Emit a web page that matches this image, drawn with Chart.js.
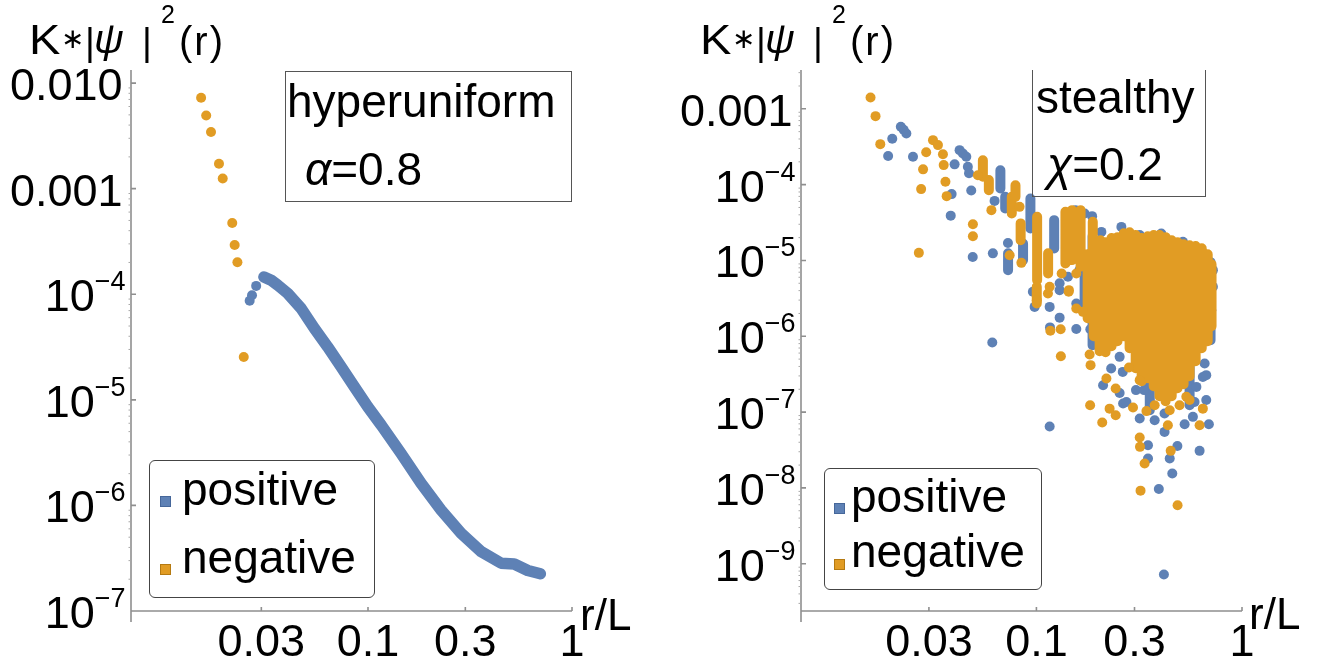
<!DOCTYPE html>
<html>
<head>
<meta charset="utf-8">
<script src="https://cdn.jsdelivr.net/npm/chart.js@4.4.0/dist/chart.umd.min.js"></script>
<style>
  html, body { margin: 0; padding: 0; background: #fff; }
  body { width: 1333px; height: 670px; position: relative; overflow: hidden;
         font-family: "Liberation Sans", Arial, sans-serif; color: #000; }
  .panel { position: absolute; top: 0; width: 663px; height: 670px; }
  .panel canvas { position: absolute; left: 0; top: 0; }
  .t { position: absolute; white-space: nowrap; line-height: 1; }
  .k { transform: scaleX(1.12); transform-origin: left top; }
  .box { position: absolute; border: 1.3px solid #555; box-sizing: border-box; }
  .legend { position: absolute; border: 1.3px solid #444; border-radius: 6px; box-sizing: border-box; }
  .mk { position: absolute; width: 11px; height: 11px; box-sizing: border-box; }
</style>
</head>
<body>

<div class="panel" id="p1" style="left:0">
  <canvas id="c1" width="663" height="670"></canvas>
  <!-- y axis title -->
  <div class="t k" style="left:29px;top:19.4px;font-size:42px">K</div>
  <div class="t" style="left:61px;top:25.3px;font-size:28px">∗</div>
  <div class="t" style="left:85px;top:22.8px;font-size:38px">|</div>
  <div class="t" style="left:94px;top:19px;font-size:41px"><i>ψ</i></div>
  <div class="t" style="left:142px;top:22.8px;font-size:38px">|</div>
  <div class="t" style="left:161px;top:1.7px;font-size:25px">2</div>
  <div class="t" style="left:179px;top:21.1px;font-size:40px;letter-spacing:2px">(r)</div>
  <div class="t" style="left:580px;top:592.8px;font-size:44px">r/L</div>
  <div class="box" style="left:285px;top:71px;width:287px;height:131px"></div>
  <div class="t" style="left:287px;top:78.1px;font-size:46px">hyperuniform</div>
  <div class="t" style="left:305px;top:146.1px;font-size:46px"><i>α</i>=0.8</div>
  <div class="legend" style="left:149px;top:460px;width:226px;height:138px"></div>
  <div class="mk" style="left:160px;top:496px;background:#5E81B5;border:1px solid #46679a"></div>
  <div class="mk" style="left:160px;top:564px;background:#E19C24;border:1px solid #b57a12"></div>
  <div class="t" style="left:182px;top:466.1px;font-size:46px">positive</div>
  <div class="t" style="left:182px;top:534.1px;font-size:46px">negative</div>
</div>

<div class="panel" id="p2" style="left:670px">
  <canvas id="c2" width="663" height="670"></canvas>
  <div class="t k" style="left:30px;top:19.4px;font-size:42px">K</div>
  <div class="t" style="left:62px;top:25.3px;font-size:28px">∗</div>
  <div class="t" style="left:86px;top:22.8px;font-size:38px">|</div>
  <div class="t" style="left:95px;top:19px;font-size:41px"><i>ψ</i></div>
  <div class="t" style="left:143px;top:22.8px;font-size:38px">|</div>
  <div class="t" style="left:162px;top:1.7px;font-size:25px">2</div>
  <div class="t" style="left:180px;top:21.1px;font-size:40px;letter-spacing:2px">(r)</div>
  <div class="t" style="left:579px;top:591.8px;font-size:44px">r/L</div>
  <div class="box" style="left:362px;top:70px;width:174px;height:127px;border-top:none"></div>
  <div class="t" style="left:366px;top:74.1px;font-size:46px">stealthy</div>
  <div class="t" style="left:377px;top:141.1px;font-size:46px"><i>χ</i>=0.2</div>
  <div class="legend" style="left:154px;top:468px;width:218px;height:122px"></div>
  <div class="mk" style="left:164px;top:503px;background:#5E81B5;border:1px solid #46679a"></div>
  <div class="mk" style="left:164px;top:559px;background:#E19C24;border:1px solid #b57a12"></div>
  <div class="t" style="left:181px;top:473.1px;font-size:46px">positive</div>
  <div class="t" style="left:181px;top:528.1px;font-size:46px">negative</div>
</div>

<script>
// colours used by both panels
const BLUE = '#5E81B5';
const ORANGE = '#E19C24';

// shared x axis
const xTickVals = [0.03, 0.1, 0.3, 1];
const xTickText = ['0.03', '0.1', '0.3', '1'];

// ---- left panel: hyperuniform, alpha = 0.8 ----
const huYTickVals = [1e-2, 1e-3, 1e-4, 1e-5, 1e-6, 1e-7];
const huYTickText = ['0.010', '0.001', '10^−4', '10^−5', '10^−6', '10^−7'];

const huNegR = [0.0152, 0.0161, 0.0170, 0.0186, 0.0194, 0.0216, 0.0222, 0.0229, 0.0246];
const huNegK = [7.27e-3, 4.94e-3, 3.44e-3, 1.72e-3, 1.25e-3, 4.73e-4, 2.93e-4, 2.01e-4, 2.54e-5];

// first three are loose dots, the rest is the dense band
const huPosR = [0.0263, 0.0270, 0.0283, 0.0309, 0.0335, 0.0361, 0.0404, 0.0470, 0.0546, 0.0634,
                0.0738, 0.0857, 0.0997, 0.116, 0.145, 0.182, 0.228, 0.286, 0.358, 0.449,
                0.521, 0.607, 0.700];
const huPosK = [8.67e-5, 9.8e-5, 1.20e-4, 1.46e-4, 1.36e-4, 1.22e-4, 1.02e-4, 7.35e-5, 4.75e-5, 3.18e-5,
                2.06e-5, 1.33e-5, 8.6e-6, 5.78e-6, 3.12e-6, 1.62e-6, 9.06e-7, 5.45e-7, 3.66e-7, 2.84e-7,
                2.79e-7, 2.42e-7, 2.25e-7];

// ---- right panel: stealthy, chi = 0.2 ----
const stYTickVals = [1e-3, 1e-4, 1e-5, 1e-6, 1e-7, 1e-8, 1e-9];
const stYTickText = ['0.001', '10^−4', '10^−5', '10^−6', '10^−7', '10^−8', '10^−9'];

const stNegR = [0.0156, 0.0165, 0.0174, 0.0268, 0.0275, 0.0281, 0.0291, 0.0314, 0.0332, 0.0351,
                0.0354, 0.0361, 0.0366, 0.0491, 0.0491, 0.0519, 0.0604, 0.0741, 0.0828, 0.0845,
                0.1005, 0.1138, 0.116, 0.1169, 0.1312, 0.1315, 0.1327, 0.1435, 0.1439, 0.1563,
                0.1563, 0.1683, 0.1815, 0.1834, 0.1825, 0.209, 0.219, 0.227, 0.243, 0.243,
                0.282, 0.295, 0.318, 0.318, 0.319, 0.321, 0.336, 0.343, 0.376, 0.436,
                0.445, 0.450, 0.486, 0.497, 0.536, 0.556, 0.622, 0.645];
const stNegK = [1.41e-3, 8.0e-4, 3.42e-4, 1.26e-5, 8.73e-5, 1.59e-4, 2.68e-4, 3.86e-4, 3.32e-4, 2.52e-4,
                1.81e-4, 1.09e-4, 7.05e-5, 3.01e-5, 2.09e-5, 1.33e-4, 4.61e-5, 1.17e-5, 5.09e-5, 9.3e-6,
                2.99e-6, 3.67e-6, 4.49e-6, 1.18e-6, 1.24e-6, 5.46e-7, 6.73e-6, 3.86e-6, 4.06e-6, 2.33e-6,
                6.73e-6, 2.10e-6, 5.75e-7, 4.16e-7, 1.23e-7, 7.3e-8, 2.77e-7, 1.11e-7, 9.1e-8, 2.05e-7,
                3.87e-7, 1.15e-7, 2.64e-7, 4.62e-8, 3.48e-8, 9.2e-9, 2.10e-8, 1.03e-7, 1.23e-7, 6.71e-8,
                1.06e-7, 3.08e-8, 5.9e-9, 1.23e-7, 1.59e-7, 1.44e-7, 6.71e-8, 1.11e-7];

const stPosR = [0.0190, 0.0199, 0.0219, 0.0226, 0.0233, 0.0251, 0.0383, 0.0387, 0.0400, 0.0423,
                0.0439, 0.0456, 0.0464, 0.0470, 0.0482, 0.0490, 0.0610, 0.0614, 0.0626, 0.0727,
                0.0961, 0.0980, 0.1160, 0.1160, 0.1164, 0.1297, 0.1297, 0.1297, 0.1397, 0.1423,
                0.1548, 0.1563, 0.1563, 0.162, 0.1716, 0.1829, 0.1866, 0.1956, 0.207, 0.211,
                0.231, 0.254, 0.254, 0.259, 0.263, 0.264, 0.274, 0.290, 0.305, 0.318,
                0.318, 0.334, 0.349, 0.349, 0.376, 0.394, 0.405, 0.417, 0.420, 0.420,
                0.445, 0.458, 0.485, 0.516, 0.526, 0.577, 0.588, 0.600, 0.622, 0.645,
                0.658, 0.670, 0.670, 0.690, 0.709, 0.709, 0.722, 0.722];
const stPosK = [2.38e-4, 4.02e-4, 5.79e-4, 5.3e-4, 4.73e-4, 2.33e-4, 3.90e-5, 7.50e-5, 1.85e-4, 2.85e-4,
                2.58e-4, 2.33e-4, 1.72e-4, 1.41e-4, 8.38e-5, 1.11e-5, 8.28e-7, 1.24e-5, 6.10e-5, 1.70e-5,
                3.86e-6, 2.44e-6, 2.44e-6, 6.46e-8, 1.31e-6, 1.76e-6, 4.06e-6, 5.01e-6, 3.23e-5, 6.08e-6,
                4.61e-5, 1.25e-6, 2.71e-6, 7.45e-6, 4.17e-5, 1.24e-6, 3.84e-5, 8.89e-7, 2.38e-5, 2.26e-7,
                3.76e-7, 5.35e-7, 1.79e-7, 2.77e-5, 3.39e-7, 1.30e-7, 1.36e-7, 8.89e-7, 1.95e-7, 8.24e-8,
                2.16e-5, 1.95e-7, 3.66e-8, 2.44e-8, 7.82e-8, 9.7e-9, 2.27e-5, 7.2e-10, 9.59e-8, 5.48e-8,
                2.44e-8, 1.55e-8, 3.58e-8, 1.76e-5, 6.92e-8, 8.65e-8, 1.36e-7, 2.15e-7, 3.08e-8, 2.91e-7,
                4.37e-7, 1.44e-7, 3.07e-7, 6.92e-8, 6.73e-6, 2.21e-6, 4.49e-6, 7.45e-6];

// vertical runs of overlapping points at (nearly) the same r: top and bottom value
const stPosColR  = [0.0668, 0.0705, 0.0728, 0.0861, 0.0935, 0.122, 0.1716, 0.1876, 0.356, 0.556, 0.703];
const stPosColHi = [1.55e-4, 6.90e-5, 1.24e-5, 1.67e-5, 6.58e-5, 3.40e-5, 9.5e-6, 2.09e-5, 4.83e-7, 4.83e-7, 9.5e-6];
const stPosColLo = [8.91e-5, 4.85e-5, 7.45e-6, 1.01e-5, 2.64e-5, 1.44e-5, 2.57e-6, 7.64e-7, 1.06e-7, 1.23e-7, 8.89e-7];

const stNegColR  = [0.0549, 0.0587, 0.0759, 0.0791, 0.0838, 0.1004, 0.1008, 0.114, 0.1384, 0.149,
                    0.164, 0.1775, 0.188, 0.190, 0.203, 0.205, 0.217, 0.232, 0.248, 0.266,
                    0.284, 0.304, 0.325, 0.348, 0.372, 0.397, 0.425, 0.455, 0.486, 0.520,
                    0.556, 0.595, 0.637, 0.681, 0.711];
const stNegColHi = [2.10e-4, 1.15e-4, 6.90e-5, 9.84e-5, 3.08e-5, 4.49e-6, 3.76e-5, 1.24e-5, 4.38e-5, 4.61e-5,
                    4.61e-5, 1.21e-5, 3.23e-5, 1.45e-5, 1.55e-5, 1.85e-5, 1.74e-5, 1.97e-5, 2.03e-5, 2.29e-5,
                    2.36e-5, 2.16e-5, 1.97e-5, 2.09e-5, 2.16e-5, 2.16e-5, 2.03e-5, 1.85e-5, 1.74e-5, 1.64e-5,
                    1.59e-5, 1.55e-5, 1.45e-5, 1.21e-5, 8.93e-6];
const stNegColLo = [1.27e-4, 8.45e-5, 4.17e-5, 6.90e-5, 1.85e-5, 2.71e-6, 5.50e-6, 6.73e-6, 9.12e-6, 1.01e-5,
                    8.24e-6, 1.73e-6, 1.11e-5, 1.00e-6, 6.35e-7, 6.08e-6, 6.16e-7, 7.39e-7, 8.61e-7, 1.00e-6,
                    6.97e-7, 3.79e-7, 2.56e-7, 2.80e-7, 2.20e-7, 1.62e-7, 1.39e-7, 1.62e-7, 2.07e-7, 2.33e-7,
                    2.98e-7, 4.69e-7, 6.97e-7, 8.61e-7, 1.36e-6];

const FONT = '"Liberation Sans", Arial, sans-serif';
const DOT = 5;

function pts(r, k) {
    return r.map((v, i) => ({ x: v, y: k[i] }));
}

// each run becomes a two-point segment, null breaks the line between runs
function runs(r, hi, lo) {
    const out = [];
    r.forEach((v, i) => {
        out.push({ x: v, y: lo[i] }, { x: v, y: hi[i] }, { x: v, y: null });
    });
    return out;
}

function dots(label, data, color, order) {
    return {
        label: label, data: data, order: order,
        backgroundColor: color, borderColor: color,
        pointRadius: DOT, pointHoverRadius: DOT, pointBorderWidth: 0,
        showLine: false, clip: false
    };
}

function band(label, data, color, width, order) {
    return {
        label: label, data: data, order: order,
        borderColor: color, backgroundColor: color,
        showLine: true, borderWidth: width, tension: 0, spanGaps: false,
        borderCapStyle: 'round', borderJoinStyle: 'round',
        pointRadius: 0, pointHoverRadius: 0, clip: false
    };
}

// Mathematica-like axes: lines, inward ticks, labels with superscript powers
const mmaAxes = {
    id: 'mmaAxes',
    beforeDatasetsDraw(chart, args, o) {
        const ctx = chart.ctx;
        const a = chart.chartArea;
        const xs = chart.scales.x;
        const ys = chart.scales.y;
        ctx.save();
        ctx.strokeStyle = '#8f8f8f';
        ctx.lineWidth = 1.6;
        ctx.beginPath();
        ctx.moveTo(a.left, a.top);
        ctx.lineTo(a.left, a.bottom + 11);
        ctx.moveTo(a.left, a.bottom);
        ctx.lineTo(a.right, a.bottom);
        o.yTicks.forEach(v => {
            const py = ys.getPixelForValue(v);
            ctx.moveTo(a.left, py);
            ctx.lineTo(a.left + 5, py);
        });
        o.xTicks.forEach(v => {
            const px = xs.getPixelForValue(v);
            ctx.moveTo(px, a.bottom);
            ctx.lineTo(px, a.bottom - 4);
        });
        ctx.stroke();

        ctx.lineWidth = 1;
        ctx.strokeStyle = '#a8a8a8';
        ctx.beginPath();
        const lo = Math.floor(Math.log10(ys.min));
        const hi = Math.ceil(Math.log10(ys.max));
        for (let d = lo; d <= hi; d++) {
            for (let k = 2; k <= 9; k++) {
                const v = k * Math.pow(10, d);
                if (v < ys.min || v > ys.max) continue;
                const py = ys.getPixelForValue(v);
                ctx.moveTo(a.left - 2.5, py);
                ctx.lineTo(a.left, py);
            }
        }
        ctx.stroke();

        ctx.fillStyle = '#000';
        ctx.textBaseline = 'alphabetic';
        ctx.font = '45px ' + FONT;
        ctx.textAlign = 'center';
        o.xTicks.forEach((v, i) => {
            ctx.fillText(o.xLabels[i], xs.getPixelForValue(v), a.bottom + 45);
        });

        ctx.textAlign = 'right';
        o.yTicks.forEach((v, i) => {
            const py = ys.getPixelForValue(v);
            const parts = o.yLabels[i].split('^');
            if (parts.length > 1) {
                ctx.font = '27px ' + FONT;
                const xr = a.left - 5.5;
                ctx.fillText(parts[1], xr, py - 4);
                const w = ctx.measureText(parts[1]).width;
                ctx.font = '45px ' + FONT;
                ctx.fillText(parts[0], xr - w, py + 17);
            } else {
                ctx.font = '45px ' + FONT;
                ctx.fillText(parts[0], a.left - 8.5, py + 17);
            }
        });
        ctx.restore();
    }
};

function makeChart(canvas, datasets, xRange, yRange, axisOpts) {
    return new Chart(canvas, {
        type: 'scatter',
        data: { datasets: datasets },
        options: {
            responsive: false,
            animation: false,
            devicePixelRatio: 1,
            layout: { padding: { left: 131, right: 91, top: 70, bottom: 59 } },
            scales: {
                x: { type: 'logarithmic', min: xRange[0], max: xRange[1], display: false },
                y: { type: 'logarithmic', min: yRange[0], max: yRange[1], display: false }
            },
            plugins: {
                legend: { display: false },
                tooltip: { enabled: false },
                mmaAxes: axisOpts
            }
        },
        plugins: [mmaAxes]
    });
}

const huPos = pts(huPosR, huPosK);
makeChart(document.getElementById('c1'), [
    dots('negative', pts(huNegR, huNegK), ORANGE, 0),
    dots('positive', huPos.slice(0, 3), BLUE, 1),
    band('positive', huPos.slice(3), BLUE, 11.5, 1)
], [0.00689, 1], [1e-7, 0.0133], {
    xTicks: xTickVals, xLabels: xTickText, yTicks: huYTickVals, yLabels: huYTickText
});

makeChart(document.getElementById('c2'), [
    dots('negative', pts(stNegR, stNegK), ORANGE, 0),
    band('negative', runs(stNegColR, stNegColHi, stNegColLo), ORANGE, 2 * DOT, 0),
    dots('positive', pts(stPosR, stPosK), BLUE, 1),
    band('positive', runs(stPosColR, stPosColHi, stPosColLo), BLUE, 2 * DOT, 1)
], [0.00716, 1], [2.38e-10, 3.25e-3], {
    xTicks: xTickVals, xLabels: xTickText, yTicks: stYTickVals, yLabels: stYTickText
});
</script>
</body>
</html>
